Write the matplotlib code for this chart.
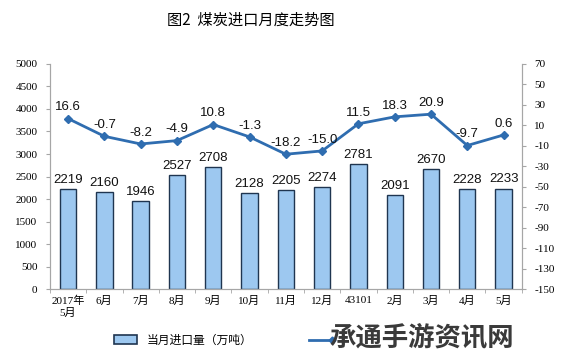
import matplotlib
matplotlib.use("Agg")
import matplotlib.pyplot as plt
from matplotlib.lines import Line2D
from matplotlib.patches import Patch

categories = ["2017年\n5月", "6月", "7月", "8月", "9月", "10月", "11月", "12月",
              "43101", "2月", "3月", "4月", "5月"]
imports = [2219, 2160, 1946, 2527, 2708, 2128, 2205, 2274, 2781, 2091, 2670, 2228, 2233]
growth = [16.6, -0.7, -8.2, -4.9, 10.8, -1.3, -18.2, -15.0, 11.5, 18.3, 20.9, -9.7, 0.6]
left_ticks = list(range(0, 5001, 500))
right_ticks = list(range(-150, 71, 20))

plt.rcParams['font.family'] = ['Liberation Sans', 'Noto Sans CJK SC']
serif = ['Liberation Serif', 'Noto Sans CJK SC']
cjk = ['Noto Sans CJK SC', 'DejaVu Sans']

fig = plt.figure(figsize=(5.61, 3.57), dpi=100)
ax = fig.add_axes([0.089, 0.190, 0.841, 0.631])
ax2 = ax.twinx()

x = list(range(len(categories)))
bar_color = '#9DC8F0'
edge_color = '#1F3550'
line_color = '#2F6DB0'
spine_color = '#A6A6A6'

ax.bar(x, imports, width=0.45, color=bar_color, edgecolor=edge_color, linewidth=1.0, zorder=2)
for xi, v in zip(x, imports):
    ax.text(xi, v + 70, str(v), ha='center', va='bottom', fontsize=9.5, color='#111111')

ax.set_ylim(0, 5000)
ax.set_xlim(-0.45, 12.45)
ax.set_yticks(left_ticks)
ax.set_yticklabels([str(t) for t in left_ticks], family=serif, fontsize=8)
ax.set_xticks(x)
ax.set_xticklabels(categories, family=serif, fontsize=8)
ax.tick_params(axis='x', length=0, pad=5)
ax.set_xticks([i + 0.5 for i in range(-1, 13)], minor=True)
ax.tick_params(axis='x', which='minor', length=3, color=spine_color)
ax.tick_params(axis='y', length=3, color=spine_color, pad=6)

ax2.plot(x, growth, color=line_color, linewidth=2, marker='D', markersize=4.5, zorder=3)
for xi, v in zip(x, growth):
    ax2.text(xi, v + 5, f"{v:.1f}", ha='center', va='bottom', fontsize=9.5, color='#111111')
ax2.set_ylim(-150, 70)
ax2.set_yticks(right_ticks)
ax2.set_yticklabels([str(t) for t in right_ticks], family=serif, fontsize=8)
ax2.tick_params(axis='y', length=3, color=spine_color, pad=6)

for a in (ax, ax2):
    a.spines['top'].set_visible(False)
    for s in ('left', 'right', 'bottom'):
        a.spines[s].set_color(spine_color)
        a.spines[s].set_linewidth(0.8)

fig.text(0.447, 0.943, "图2  煤炭进口月度走势图", ha='center', va='center', fontsize=11,
         family=cjk)

# legend: bar entry
fig.legend([Patch(facecolor=bar_color, edgecolor=edge_color, linewidth=1.2)],
           ["当月进口量（万吨）"], loc='center left',
           bbox_to_anchor=(0.185, 0.047), frameon=False,
           handlelength=1.9, handleheight=0.7,
           prop={'family': cjk, 'size': 8.5})
# legend: line entry (its label is hidden under the watermark in the reference)
fig.add_artist(Line2D([0.551, 0.592], [0.047, 0.047], color=line_color, linewidth=2,
                      marker='D', markersize=3.5, markevery=[1], transform=fig.transFigure))

fig.text(0.752, 0.053, "承通手游资讯网", ha='center', va='center', fontsize=19,
         fontweight='bold', color='#3A3A3A', family=cjk, zorder=10)

fig.savefig("out.png", dpi=100)
